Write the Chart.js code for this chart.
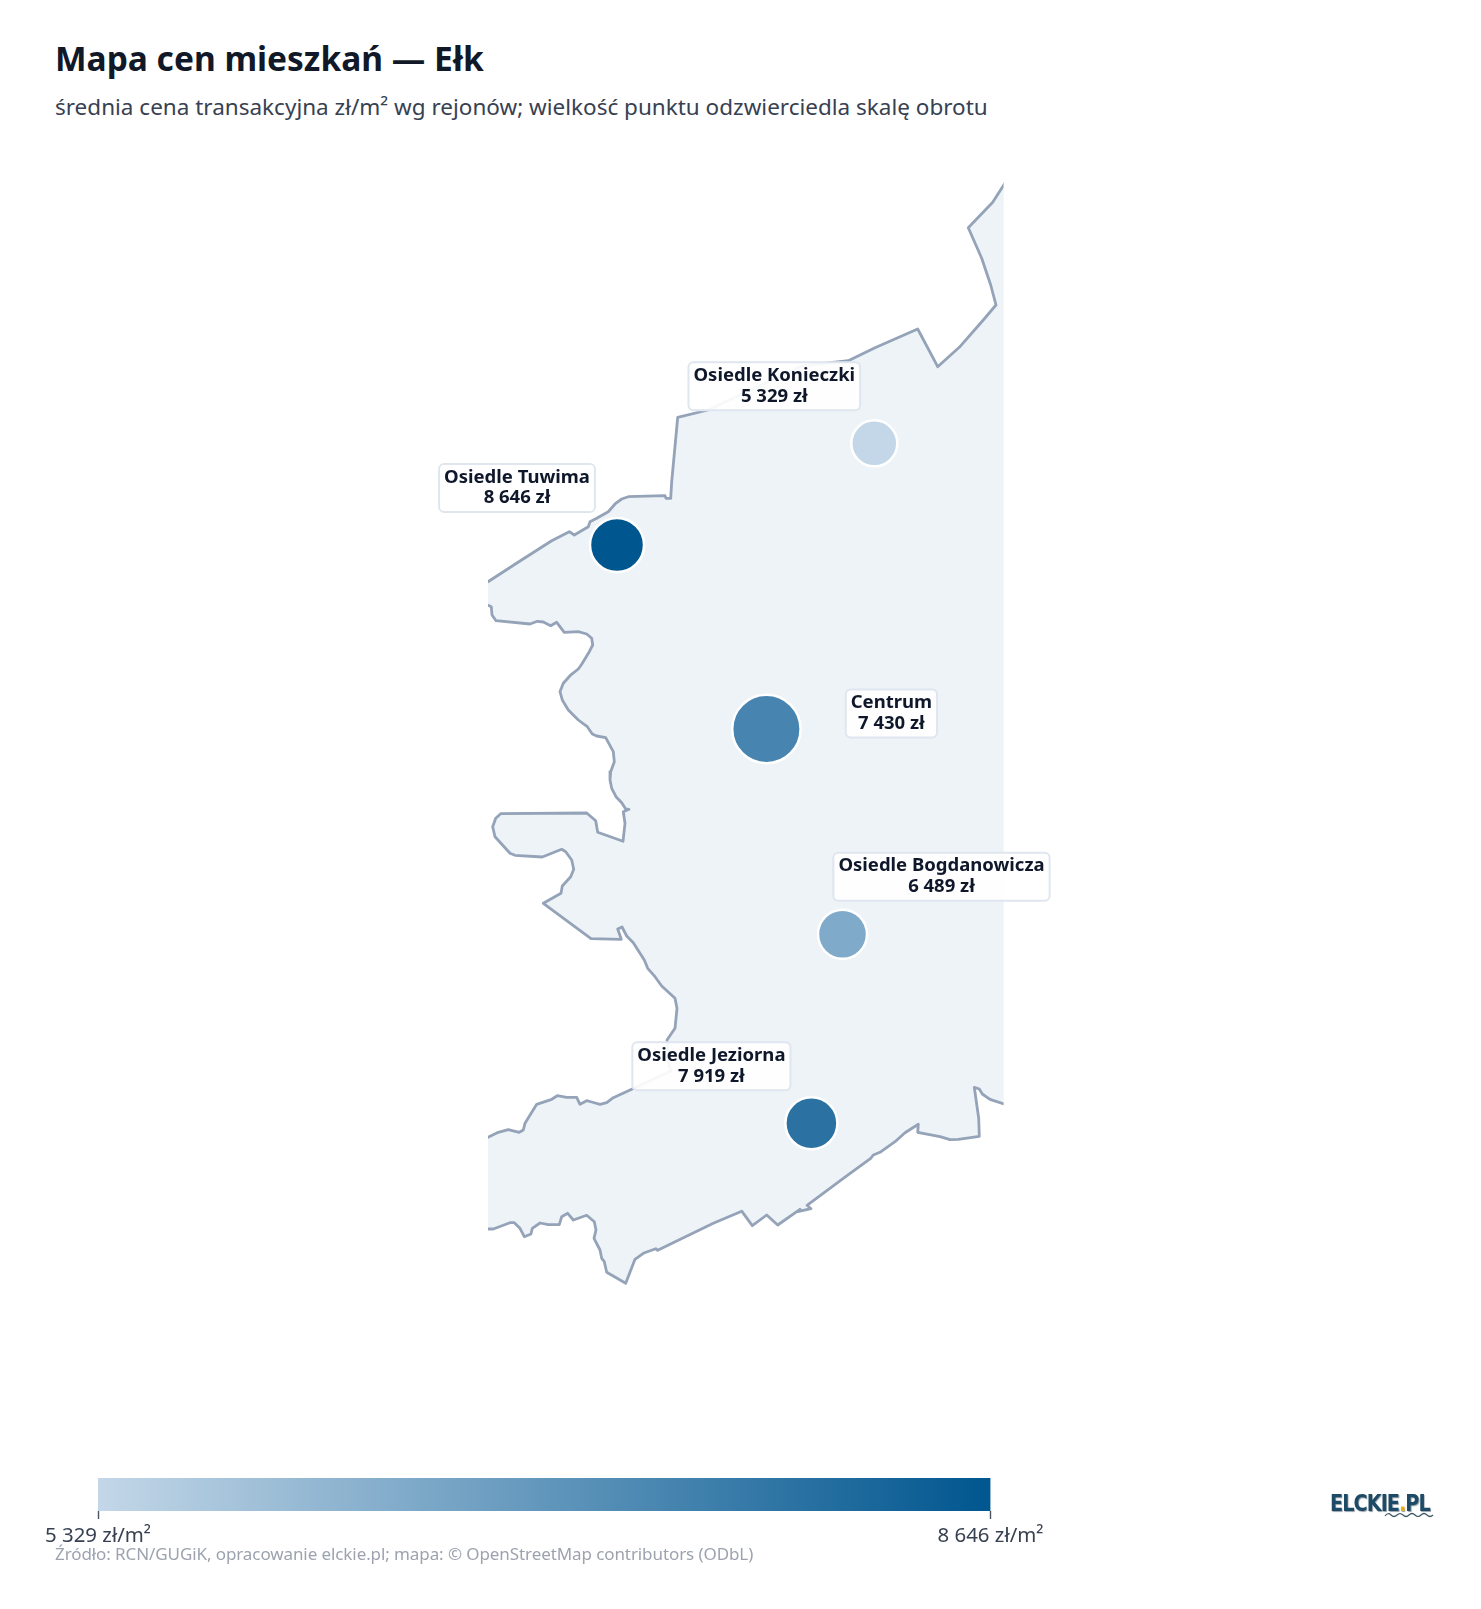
<!DOCTYPE html>
<html lang="pl">
<head>
<meta charset="utf-8">
<title>Mapa cen mieszkań — Ełk</title>
<script src="https://cdn.jsdelivr.net/npm/chart.js@4"></script>
<style>
  html, body { margin: 0; padding: 0; background: #fff; width: 1481px; height: 1609px; overflow: hidden; }
  body { position: relative; font-family: "Noto Sans", sans-serif; }
  canvas { position: absolute; left: 0; }
  .txt { position: absolute; white-space: nowrap; }
  #title { left: 55px; top: 35px; font-size: 33.5px; line-height: 46px; font-weight: 700; color: #111827; }
  #subtitle { left: 55px; top: 91px; font-size: 22.5px; line-height: 32px; color: #374151; }
  #source { left: 55px; top: 1542px; font-size: 17px; line-height: 24px; color: #9ca3af; letter-spacing: -0.09px; }
  #logo { left: 1330px; top: 1489px; font: 700 23px/28px "DejaVu Sans", sans-serif; color: #1d4a66; letter-spacing: -1.2px; text-shadow: 1px 1px 1px #9aa3ab; transform: scaleX(0.84); transform-origin: left center; filter: blur(0.4px); }
  #logo b { color: #eab308; }
  #wave { position: absolute; left: 1384px; top: 1511px; }
</style>
</head>
<body>
<div id="title" class="txt">Mapa cen mieszkań — Ełk</div>
<div id="subtitle" class="txt">średnia cena transakcyjna zł/m² wg rejonów; wielkość punktu odzwierciedla skalę obrotu</div>
<canvas id="map" width="1481" height="1609" style="top:0;width:1481px;height:1609px"></canvas>
<canvas id="bar" width="1100" height="130" style="top:1450px;width:1100px;height:130px"></canvas>
<div id="source" class="txt">Źródło: RCN/GUGiK, opracowanie elckie.pl; mapa: © OpenStreetMap contributors (ODbL)</div>
<div id="logo" class="txt">ELCKIE<b>.</b>PL</div>
<svg id="wave" width="50" height="8" viewBox="0 0 50 8"><path d="M1 5 Q4 1 7 4 T13 4 T19 4 T25 4 T31 4 T37 4 T43 4 T49 4" fill="none" stroke="#3b5566" stroke-width="1.2"/></svg>
<script>
// districts
const districts = ['Osiedle Konieczki', 'Osiedle Tuwima', 'Centrum', 'Osiedle Bogdanowicza', 'Osiedle Jeziorna'];
const prices    = [5329, 8646, 7430, 6489, 7919];
const pointX    = [386.3, 129, 278.4, 354.5, 323.4];
const pointY    = [273.3, 375, 559, 764.3, 953.3];
const pointR    = [23, 27, 34.2, 24.5, 26];
const labelDX   = [-100, -100, 125, 99, -100];
const labelDY   = [-57, -57, -15.5, -57.6, -57];

// colour bar
const barTicks = [5329, 8646];
const colorLow  = [195, 215, 232];
const colorHigh = [0, 86, 143];

// town boundary, map units (runs past the visible frame left and right)
const boundary = [
  [524,2],[504.7,32.3],[480.3,57.7],[493.7,88.3],[502.7,115],[508,135],[495.3,150],[471.3,177.3],[449.7,196.7],
  [429.7,159],[387,177.7],[360.3,190.7],[314,196],[220,240],[189.7,247.3],[183.7,311.7],[182.7,328.3],[178,328.3],
  [177,325.7],[140.3,326.7],[133.7,329],[127.7,333.3],[120.3,341.7],[108.7,348.3],[102,351.7],[100.3,356.7],[86.3,365],
  [81.3,361.7],[63.7,370.7],[32,391],[0,411.7],[-8,416.7],[-8,433],[0,435.3],[3.3,436.7],[4,445],[8,450.7],[42,454],
  [49.3,451.3],[55.3,452],[62.7,455.7],[68.7,452.3],[76.3,462.3],[90.3,461.7],[98.7,464],[103.7,468.3],[104.7,475],
  [101.3,481.7],[93.7,494.3],[90.3,499],[82,505.7],[75.3,513.3],[72,521.7],[74.3,530],[80.3,540],[90.3,550],[99.3,556.7],
  [104.3,564],[108.7,566],[117.7,567.7],[125.3,581.7],[126.3,591.7],[122.7,601.7],[122,610],[123.7,618.3],[128,626.7],
  [133.7,632.7],[137.7,639],[141,639.3],[135.3,641.7],[137,653.3],[135,671.3],[109.7,662.3],[107.7,650.7],[98.7,643],
  [12.7,643.7],[7.7,648.3],[4.7,656.7],[7,666.7],[22,683.3],[27,685.3],[54.3,687],[73.7,679.3],[77.7,681.7],[83.7,690],
  [85.7,699.3],[82.7,706.7],[74.3,716],[73,723.3],[55.3,733.3],[103,768.7],[133.3,769.3],[129.7,759],[134,757],[138.7,766],
  [145.3,772.7],[156.3,790],[159.7,798.3],[167,806.7],[173.7,816],[187,828.3],[189,838.3],[187,858.3],[179,870],[180,892],
  [183,901],[143.7,919.3],[125.3,927.7],[118.7,932.7],[112,934.3],[103.7,932],[98.7,930.7],[92,934.3],[88.7,927.3],
  [78.7,927.3],[69.3,925.7],[63.7,929.3],[48.7,934.3],[37,953.3],[35.3,960],[31.3,962.3],[20.3,959.7],[10.3,962.3],
  [0,967.3],[-8,971.7],[-8,1058],[0,1059],[5.3,1059],[22,1052.7],[26.3,1052.7],[32,1058.3],[36.3,1066.7],[43,1064],
  [44.3,1058.3],[52,1053],[60.3,1054.7],[71.3,1054.7],[73.7,1046.7],[79.7,1043.3],[85.3,1050],[98.7,1045.3],[106.3,1051.7],
  [108,1060],[106,1068.3],[112,1080],[113.7,1088.3],[116.3,1091.7],[118.7,1102.3],[137.7,1113.3],[147,1089.3],[155.3,1083.3],
  [167.7,1078.7],[169.7,1080.3],[225.3,1053.3],[253.7,1041.2],[264.3,1055.7],[278.7,1045],[289.7,1055],[312,1039.3],[309.7,1041.7],
  [323,1038.7],[319,1035.3],[355.3,1008.3],[382.7,988.3],[385.3,985],[392,982.3],[407,971.7],[417,962.7],[430.3,954.3],
  [429.7,962.3],[452,966.7],[462,969.7],[470.3,969.3],[491.3,966.3],[490.7,948.3],[486.3,917.3],[491.3,919],[494.3,924],
  [502,929.3],[516,934],[532,939],[545,939],[545,2],[524,2]
];

function formatPrice(v) {
  return String(v).replace(/\B(?=(\d{3})+$)/g, '\u00a0');
}

function priceColor(v) {
  const t = (v - barTicks[0]) / (barTicks[1] - barTicks[0]);
  const c = colorLow.map((low, i) => Math.round(low + (colorHigh[i] - low) * t));
  return 'rgb(' + c.join(',') + ')';
}

// name + price boxes next to the points
const labelBoxes = {
  id: 'labelBoxes',
  afterDatasetsDraw(chart) {
    const ctx = chart.ctx;
    const points = chart.getDatasetMeta(1).data;
    ctx.save();
    ctx.font = '700 18.5px "Noto Sans", sans-serif';
    ctx.textAlign = 'center';
    ctx.textBaseline = 'middle';
    points.forEach((pt, i) => {
      const cx = pt.x + labelDX[i];
      const cy = pt.y + labelDY[i];
      const price = formatPrice(prices[i]) + ' zł';
      const w = Math.max(ctx.measureText(districts[i]).width, ctx.measureText(price).width) + 10;
      const h = 48;
      ctx.beginPath();
      ctx.roundRect(cx - w / 2, cy - h / 2, w, h, 5);
      ctx.fillStyle = 'rgba(255,255,255,0.92)';
      ctx.fill();
      ctx.lineWidth = 2;
      ctx.strokeStyle = '#dfe6ef';
      ctx.stroke();
      ctx.fillStyle = '#0f172a';
      ctx.fillText(districts[i], cx, cy - 10.5);
      ctx.fillText(price, cx, cy + 10);
    });
    ctx.restore();
  }
};

new Chart(document.getElementById('map'), {
  type: 'scatter',
  data: {
    datasets: [
      {
        data: boundary.map(p => ({x: p[0], y: p[1]})),
        showLine: true,
        fill: 'shape',
        backgroundColor: '#eef3f8',
        borderColor: '#94a3b8',
        borderWidth: 2.8,
        borderJoinStyle: 'round',
        pointRadius: 0,
        tension: 0,
        clip: 0,
        order: 2
      },
      {
        type: 'bubble',
        data: districts.map((d, i) => ({x: pointX[i], y: pointY[i], r: pointR[i]})),
        backgroundColor: prices.map(priceColor),
        borderColor: '#ffffff',
        borderWidth: 2.5,
        order: 1
      }
    ]
  },
  options: {
    responsive: false,
    animation: false,
    layout: { padding: { left: 488, right: 477.4, top: 170, bottom: 299 } },
    plugins: { legend: { display: false }, tooltip: { enabled: false } },
    scales: {
      x: { type: 'linear', min: 0, max: 515.6, display: false },
      y: { type: 'linear', min: 0, max: 1140, reverse: true, display: false }
    }
  },
  plugins: [labelBoxes]
});

new Chart(document.getElementById('bar'), {
  type: 'bar',
  data: {
    labels: ['cena'],
    datasets: [{
      data: [[barTicks[0], barTicks[1]]],
      barPercentage: 1,
      categoryPercentage: 1,
      backgroundColor(c) {
        const area = c.chart.chartArea;
        if (!area) return 'rgb(' + colorLow.join(',') + ')';
        const g = c.chart.ctx.createLinearGradient(area.left, 0, area.right, 0);
        g.addColorStop(0, 'rgb(' + colorLow.join(',') + ')');
        g.addColorStop(1, 'rgb(' + colorHigh.join(',') + ')');
        return g;
      }
    }]
  },
  options: {
    indexAxis: 'y',
    responsive: false,
    animation: false,
    layout: { padding: { left: 98, right: 109.5, top: 28, bottom: 24 } },
    plugins: { legend: { display: false }, tooltip: { enabled: false } },
    scales: {
      y: { display: false },
      x: {
        type: 'linear',
        min: barTicks[0],
        max: barTicks[1],
        border: { display: false },
        grid: { drawOnChartArea: false, drawTicks: true, tickLength: 8, tickColor: '#4b5563', tickWidth: 1.4 },
        afterBuildTicks(axis) { axis.ticks = barTicks.map(v => ({value: v})); },
        afterFit(axis) { axis.height = 45; },
        ticks: {
          autoSkip: false,
          maxRotation: 0,
          padding: 5,
          color: '#374151',
          font: { family: '"Noto Sans", sans-serif', size: 20.4 },
          callback: v => formatPrice(v) + ' zł/m²'
        }
      }
    }
  }
});
</script>
</body>
</html>
